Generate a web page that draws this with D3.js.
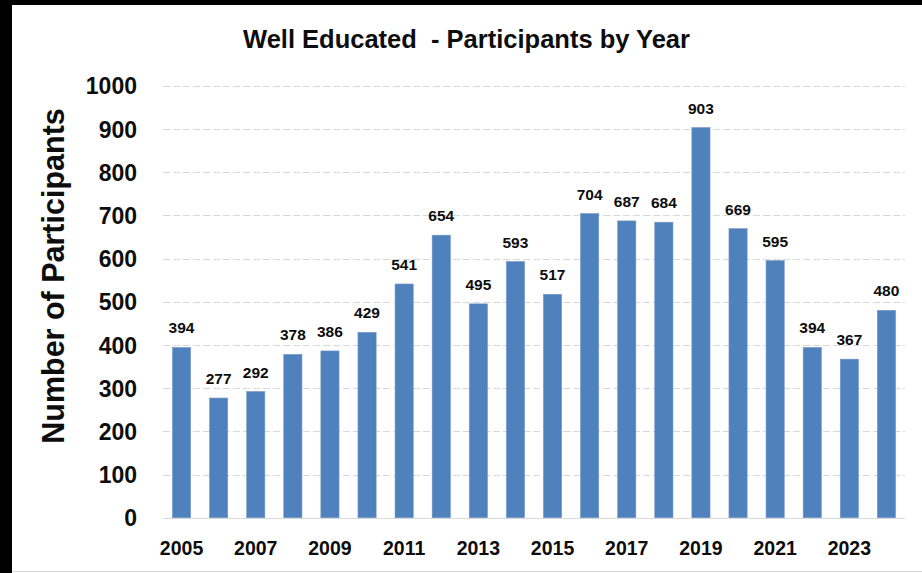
<!DOCTYPE html>
<html>
<head>
<meta charset="utf-8">
<script src="https://cdn.jsdelivr.net/npm/d3@7"></script>
<style>
  html, body { margin: 0; padding: 0; background: #000; }
  svg { display: block; }
  text { font-family: "Liberation Sans", Arial, sans-serif; font-weight: bold; fill: #0d0d0d; white-space: pre; }
</style>
</head>
<body>
<svg id="chart" width="922" height="573"></svg>
<script>
// Participants per year
const years = [2005, 2006, 2007, 2008, 2009, 2010, 2011, 2012, 2013, 2014,
               2015, 2016, 2017, 2018, 2019, 2020, 2021, 2022, 2023, 2024];
const participants = [394, 277, 292, 378, 386, 429, 541, 654, 495, 593,
                      517, 704, 687, 684, 903, 669, 595, 394, 367, 480];
const yTicks = [0, 100, 200, 300, 400, 500, 600, 700, 800, 900, 1000];
const xTickLabels = [2005, 2007, 2009, 2011, 2013, 2015, 2017, 2019, 2021, 2023];
const titleText = "Well Educated  - Participants by Year";
const yTitleText = "Number of Participants";

const svg = d3.select("#chart");

// white chart panel on a dark frame
svg.append("rect").attr("x", 12).attr("y", 5).attr("width", 910).attr("height", 568).attr("fill", "#fff");
svg.append("line").attr("x1", 12).attr("x2", 922).attr("y1", 571.5).attr("y2", 571.5)
  .attr("stroke", "#d9d9d9").attr("stroke-width", 1);

const plot = { left: 163, right: 905, top: 85.7, bottom: 517.7 };

const x = d3.scaleBand().domain(years).range([plot.left, plot.right]).paddingInner(0.51).paddingOuter(0.255);
const y = d3.scaleLinear().domain([0, 1000]).range([plot.bottom, plot.top]);

// gridlines
svg.append("g").selectAll("line").data(yTicks.filter(d => d > 0)).join("line")
  .attr("x1", plot.left).attr("x2", plot.right)
  .attr("y1", d => Math.round(y(d)) + 0.5).attr("y2", d => Math.round(y(d)) + 0.5)
  .attr("stroke", "#d9d9d9").attr("stroke-width", 1).attr("stroke-dasharray", "7,3");

// baseline
svg.append("line").attr("x1", plot.left).attr("x2", plot.right)
  .attr("y1", Math.round(y(0)) + 0.5).attr("y2", Math.round(y(0)) + 0.5)
  .attr("stroke", "#d9d9d9").attr("stroke-width", 1.2);

// bars
svg.append("g").selectAll("rect").data(years).join("rect")
  .attr("x", d => x(d))
  .attr("width", x.bandwidth())
  .attr("y", (d, i) => y(participants[i]))
  .attr("height", (d, i) => y(0) - y(participants[i]))
  .attr("fill", "#4f81bd")
  .attr("stroke", "#6f97c9").attr("stroke-width", 0.6);

// value labels
svg.append("g").selectAll("text").data(years).join("text")
  .attr("x", d => x(d) + x.bandwidth() / 2)
  .attr("y", (d, i) => y(participants[i]) - 14)
  .attr("text-anchor", "middle")
  .attr("font-size", 15.5)
  .text((d, i) => participants[i]);

// y axis
const yAxis = d3.axisLeft(y).tickValues(yTicks).tickFormat(d3.format("d")).tickSize(0).tickPadding(0);
const gy = svg.append("g").attr("transform", `translate(137,0)`).call(yAxis);
gy.select(".domain").remove();
gy.selectAll("text").attr("font-size", 23).attr("font-family", "Liberation Sans, Arial, sans-serif")
  .attr("font-weight", "bold").attr("fill", "#0d0d0d").attr("dy", "0.36em");

// x axis
const xAxis = d3.axisBottom(x).tickValues(xTickLabels).tickSize(0).tickPadding(0);
const gx = svg.append("g").attr("transform", `translate(0,${plot.bottom})`).call(xAxis);
gx.select(".domain").remove();
gx.selectAll("text").attr("font-size", 19.5).attr("font-family", "Liberation Sans, Arial, sans-serif")
  .attr("font-weight", "bold").attr("fill", "#0d0d0d").attr("dy", 0).attr("y", 37.5);

// title
svg.append("text").attr("x", 466.5).attr("y", 48).attr("text-anchor", "middle")
  .attr("font-size", 25.5).text(titleText);

// y axis title
svg.append("text").attr("transform", "translate(64,276) rotate(-90)")
  .attr("text-anchor", "middle").attr("font-size", 30.5).text(yTitleText);
</script>
</body>
</html>
